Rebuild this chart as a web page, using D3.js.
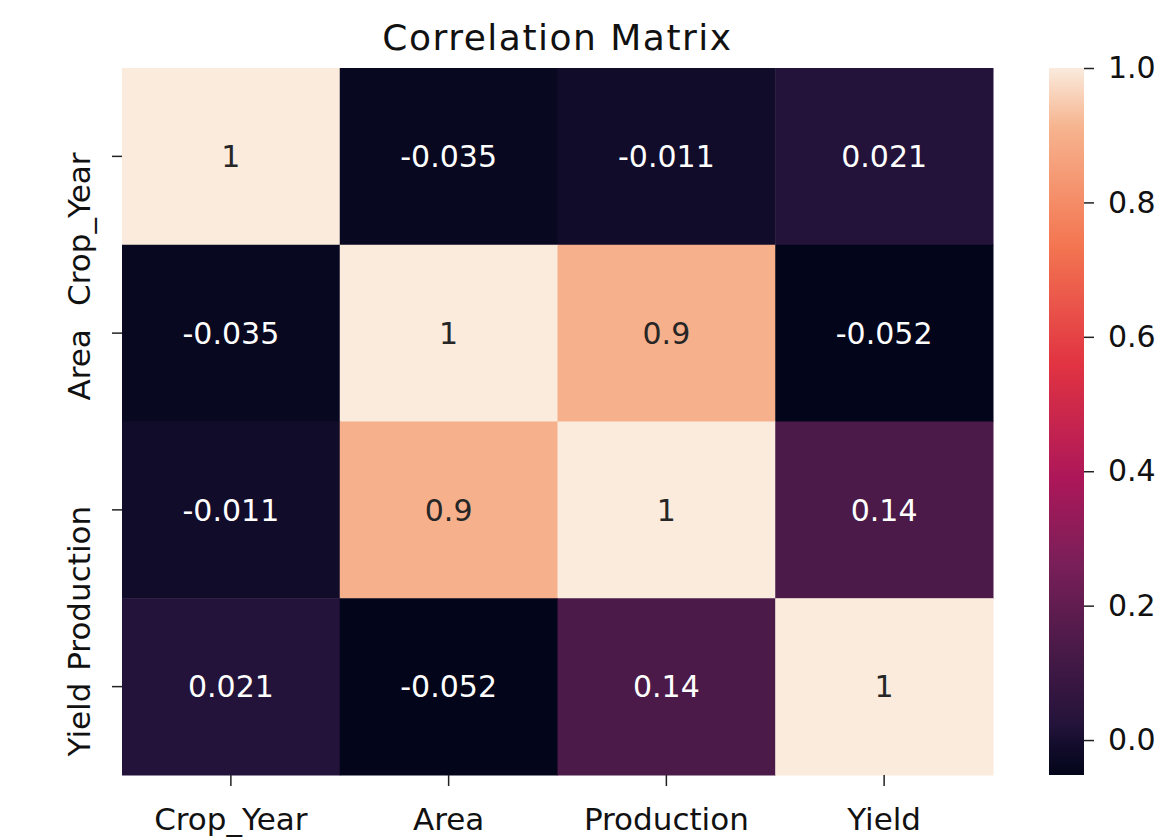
<!DOCTYPE html>
<html>
<head>
<meta charset="utf-8">
<script src="https://cdn.jsdelivr.net/npm/d3@7"></script>
<style>
  body { margin: 0; background: #fff; }
  text { font-family: "DejaVu Sans", sans-serif; }
</style>
</head>
<body>
<div id="chart"></div>
<script>
// correlation matrix values
const labels = ['Crop_Year', 'Area', 'Production', 'Yield'];
const matrix = [
    [1, -0.035, -0.011, 0.021],
    [-0.035, 1, 0.9, -0.052],
    [-0.011, 0.9, 1, 0.14],
    [0.021, -0.052, 0.14, 1]
];
const cbarTicks = [0.0, 0.2, 0.4, 0.6, 0.8, 1.0];
// "rocket"-like colormap stops, tuned to the picture
const rocketPos = [0, 0.04, 0.07, 0.18, 0.30, 0.42, 0.58, 0.75, 0.917, 1];
const rocketStops = ['#03051a', '#120c2b', '#23133a', '#4a1a48', '#7a1f59',
    '#ad1759', '#e13342', '#f37651', '#f6b48f', '#faebdd'];

const fmt = {
    width: 1160,
    height: 838,
    margins: {left: 122, top: 68, right: 167, bottom: 63},
    title: 'Correlation Matrix'
};

function heatmap(container, fmt, data) {
    const width = fmt.width - fmt.margins.left - fmt.margins.right,
        height = fmt.height - fmt.margins.top - fmt.margins.bottom;

    let svg = d3.select(container).append('svg')
        .attr('width', fmt.width)
        .attr('height', fmt.height);

    const x = d3.scaleBand().domain(d3.range(labels.length)).range([0, width]),
        y = d3.scaleBand().domain(d3.range(labels.length)).range([0, height]);

    const vmin = d3.min(data.flat()), vmax = d3.max(data.flat());
    const rocket = d3.scaleLinear().domain(rocketPos).range(rocketStops)
        .interpolate(d3.interpolateRgb);
    const color = (v) => rocket((v - vmin) / (vmax - vmin));

    let g = svg.append('g')
        .attr('transform', 'translate(' + fmt.margins.left + ',' + fmt.margins.top + ')');

    let cells = [];
    data.forEach((row, i) => row.forEach((v, j) => cells.push({i, j, v})));

    g.selectAll('.cell')
        .data(cells)
        .enter().append('rect')
        .attr('x', (d) => x(d.j))
        .attr('y', (d) => y(d.i))
        .attr('width', x.bandwidth() + 0.5)
        .attr('height', y.bandwidth() + 0.5)
        .attr('fill', (d) => color(d.v));

    g.selectAll('.annot')
        .data(cells)
        .enter().append('text')
        .attr('x', (d) => x(d.j) + x.bandwidth()/2)
        .attr('y', (d) => y(d.i) + y.bandwidth()/2)
        .attr('dy', '0.36em')
        .attr('text-anchor', 'middle')
        .attr('font-size', 30)
        .attr('fill', (d) => {
            const c = d3.rgb(color(d.v));
            const lum = (0.299*c.r + 0.587*c.g + 0.114*c.b) / 255;
            return lum > 0.408 ? '#262626' : '#ffffff';
        })
        .text((d) => d.v);

    const xAxis = g.append('g')
        .attr('transform', 'translate(0,' + height + ')')
        .call(d3.axisBottom(x).tickSize(11).tickPadding(22).tickFormat((i) => labels[i]));
    xAxis.select('.domain').remove();
    xAxis.selectAll('text').attr('font-size', 31).attr('fill', '#111')
        .style('font-family', '"DejaVu Sans", sans-serif');
    xAxis.selectAll('line').attr('stroke', '#222').attr('stroke-width', 1.5);

    // y labels: rotated, their end sits at the tick (as in the picture, where they overlap)
    const yAxis = g.append('g')
        .call(d3.axisLeft(y).tickSize(10).tickPadding(0).tickFormat((i) => labels[i]));
    yAxis.select('.domain').remove();
    yAxis.selectAll('line').attr('stroke', '#222').attr('stroke-width', 1.5);
    yAxis.selectAll('text')
        .attr('font-size', 31).attr('fill', '#111')
        .style('font-family', '"DejaVu Sans", sans-serif')
        .attr('x', 0).attr('y', 0).attr('dy', null)
        .attr('text-anchor', 'end')
        .attr('transform', 'translate(-32,-4) rotate(-90)');

    // colorbar
    const cbX = 1049 - fmt.margins.left, cbW = 35;
    const cy = d3.scaleLinear().domain([vmin, vmax]).range([height, 0]);
    const defs = svg.append('defs');
    const grad = defs.append('linearGradient').attr('id', 'cbar')
        .attr('x1', 0).attr('y1', 1).attr('x2', 0).attr('y2', 0);
    rocketStops.forEach((c, k) => grad.append('stop')
        .attr('offset', rocketPos[k]).attr('stop-color', c));
    g.append('rect')
        .attr('x', cbX).attr('y', 0)
        .attr('width', cbW).attr('height', height)
        .attr('fill', 'url(#cbar)');

    const cAxis = g.append('g')
        .attr('transform', 'translate(' + (cbX + cbW) + ',0)')
        .call(d3.axisRight(cy).tickValues(cbarTicks).tickSize(10).tickPadding(14).tickFormat(d3.format('.1f')));
    cAxis.select('.domain').remove();
    cAxis.selectAll('line').attr('stroke', '#222').attr('stroke-width', 1.5);
    cAxis.selectAll('text').attr('font-size', 30).attr('fill', '#111')
        .style('font-family', '"DejaVu Sans", sans-serif');

    svg.append('text')
        .attr('x', fmt.margins.left + width/2)
        .attr('y', 50)
        .attr('text-anchor', 'middle')
        .attr('font-size', 36)
        .attr('letter-spacing', 1.5)
        .attr('fill', '#111')
        .text(fmt.title);
}

heatmap('#chart', fmt, matrix);
</script>
</body>
</html>
